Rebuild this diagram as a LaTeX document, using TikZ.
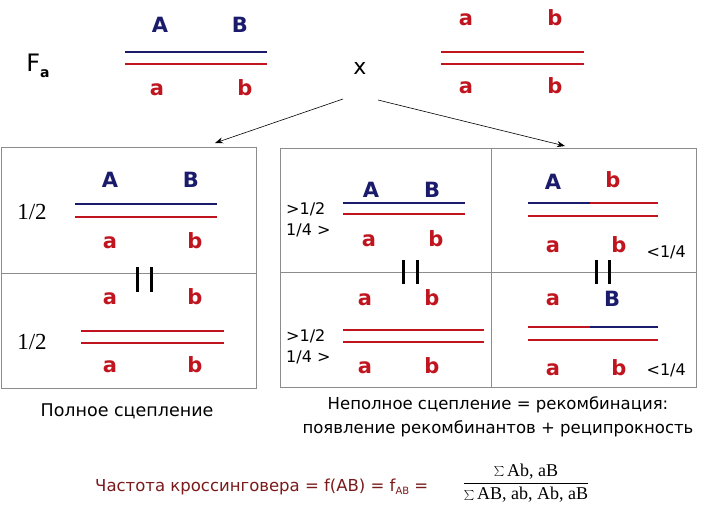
\documentclass[tikz,border=0pt]{standalone}
\usepackage{fontspec}
\setmainfont{DejaVu Sans}
\newfontfamily\serif{Liberation Serif}
\usetikzlibrary{positioning, arrows.meta}
\definecolor{chromblue}{HTML}{1B1B6B}
\definecolor{chromred}{HTML}{C0141E}
\definecolor{formred}{HTML}{7A1A1A}
\definecolor{framegray}{HTML}{8C8C8C}

\begin{document}
\begin{tikzpicture}[
  x=1pt, y=-1pt,
  allele/.style={font=\fontsize{21}{21}\selectfont\bfseries, inner sep=0pt},
  upA/.style={allele, text=chromblue},
  lowa/.style={allele, text=chromred},
  bl/.style={line width=2.9pt, chromblue},
  rl/.style={line width=2.9pt, chromred},
  half/.style={font=\serif\fontsize{23}{23}\selectfont, inner sep=0pt},
  ratio/.style={font=\fontsize{16}{21}\selectfont, align=left, inner sep=0pt},
  bars/.style={line width=3pt, black},
  cell/.style={draw=framegray, line width=0.8pt},
  cross/.style={-{Stealth[length=8pt, width=6pt]}, line width=0.6pt},
  caption/.style={font=\fontsize{16.5}{24}\selectfont, align=center, inner sep=0pt}
]
\useasboundingbox (0,0) rectangle (710,515);

% ===== Parents =====
\node[font=\fontsize{24}{24}\selectfont, inner sep=0pt] (fa) at (38,66) {F\raisebox{-6pt}{\fontsize{14}{14}\selectfont\bfseries a}};
\node[upA] (pA) at (160,25) {A};
\node[upA] (pB) at (240,25) {B};
\draw[bl] (125,52) -- (267,52);
\draw[rl] (125,64) -- (267,64);
\node[lowa] (pa) at (157,90) {a};
\node[lowa] (pb) at (245,88) {b};

\node[font=\fontsize{22}{22}\selectfont, inner sep=0pt] (times) at (360,68) {x};

\node[lowa] (qa) at (466,20) {a};
\node[lowa] (qb) at (555,18) {b};
\draw[rl] (441,52) -- (584,52);
\draw[rl] (441,64) -- (584,64);
\node[lowa] (qa2) at (466,88) {a};
\node[lowa] (qb2) at (555,86) {b};

% ===== Arrows =====
\coordinate (sl) at (343,99);
\coordinate (sr) at (378,100);
\coordinate (tl) at (215,143);
\coordinate (tr) at (565,146);
\draw[cross] (sl) -- (tl);
\draw[cross] (sr) -- (tr);

% ===== Full linkage =====
\draw[cell] (1,147) rectangle (256,388);
\draw[cell] (1,273) -- (256,273);
\node[half] (h1) at (32,212) {1/2};
\node[upA] (lA) at (110,180) {A};
\node[upA] (lB) at (191,180) {B};
\draw[bl] (75,204) -- (217,204);
\draw[rl] (75,217) -- (217,217);
\node[lowa] (la) at (110,243) {a};
\node[lowa] (lb) at (195,241) {b};
\draw[bars] (137,267) -- (137,292) (151,267) -- (151,292);
\node[lowa] (la2) at (110,299) {a};
\node[lowa] (lb2) at (195,297) {b};
\draw[rl] (81,331) -- (224,331);
\draw[rl] (81,343) -- (224,343);
\node[lowa] (la3) at (110,367) {a};
\node[lowa] (lb3) at (195,365) {b};
\node[half] (h2) at (32,342) {1/2};

% ===== Incomplete linkage =====
\draw[cell] (280,148) rectangle (696,387);
\draw[cell] (280,272) -- (696,272);
\draw[cell] (491,148) -- (491,387);
\foreach \y in {220,347}{\node[ratio, anchor=west] at (286,\y) {>1/2\\1/4 >};}
\foreach \y in {252,370}{\node[ratio, anchor=east] at (686,\y) {<1/4};}

% parental classes
\node[upA] (rA) at (371,190) {A};
\node[upA] (rB) at (432,190) {B};
\draw[bl] (343,203) -- (465,203);
\draw[rl] (343,214) -- (465,214);
\node[lowa] (ra) at (369,241) {a};
\node[lowa] (rb) at (436,239) {b};
\node[lowa] (ra2) at (365,300) {a};
\node[lowa] (rb2) at (432,298) {b};
\draw[rl] (343,330) -- (484,330);
\draw[rl] (343,342) -- (484,342);
\node[lowa] (ra3) at (365,368) {a};
\node[lowa] (rb3) at (432,366) {b};
\draw[bars] (403,260) -- (403,284) (417,260) -- (417,284);

% recombinant classes
\node[upA] (kA) at (553,182) {A};
\node[lowa] (kb) at (613,180) {b};
\draw[bl] (528,203) -- (590,203);
\draw[rl] (590,203) -- (658,203);
\draw[rl] (528,216) -- (658,216);
\node[lowa] (ka) at (553,247) {a};
\node[lowa] (kb2) at (619,245) {b};
\draw[bars] (596,260) -- (596,284) (609,260) -- (609,284);
\node[lowa] (ka2) at (553,300) {a};
\node[upA] (kB) at (612,299) {B};
\draw[rl] (528,327) -- (590,327);
\draw[bl] (590,327) -- (658,327);
\draw[rl] (528,340) -- (658,340);
\node[lowa] (ka3) at (553,370) {a};
\node[lowa] (kb3) at (619,368) {b};

% ===== Captions =====
\node[caption, font=\fontsize{17.5}{24}\selectfont] (full) at (127,411) {Полное сцепление};
\node[caption] (part) at (498,417) {Неполное сцепление = рекомбинация:\\появление рекомбинантов + реципрокность};

% ===== Crossing-over frequency =====
\node[caption, text=formred, anchor=west] (freq) at (95,487) {Частота кроссинговера = f(AB) = f\raisebox{-3pt}{\fontsize{10}{10}\selectfont AB} =};
\node[font=\serif\fontsize{18}{18}\selectfont, inner sep=0pt] (ratiofrac) at (526,483)
  {$\displaystyle\frac{\textstyle\sum\mbox{Ab, aB}}{\textstyle\sum\mbox{AB, ab, Ab, aB}}$};

\end{tikzpicture}
\end{document}
